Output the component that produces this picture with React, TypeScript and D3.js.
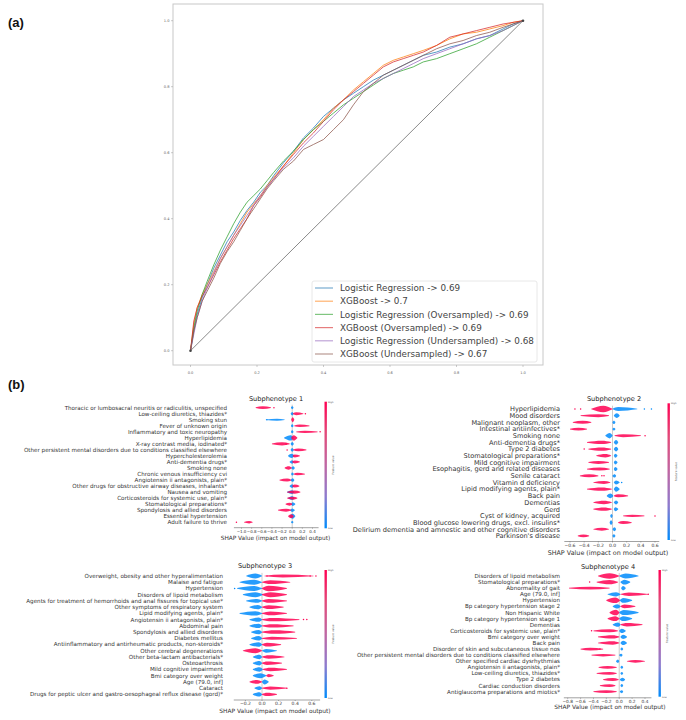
import React from 'react';
import * as d3 from 'd3';

// ---------- (a) ROC curves ----------
const rocFpr = [0, 0.01, 0.02, 0.035, 0.05, 0.07, 0.09, 0.11, 0.13, 0.15, 0.17, 0.19, 0.21, 0.23, 0.25, 0.28, 0.31, 0.34, 0.37, 0.4, 0.43, 0.46, 0.49, 0.52, 0.55, 0.58, 0.61, 0.64, 0.67, 0.7, 0.74, 0.78, 0.82, 0.86, 0.9, 0.94, 0.97, 1.0];
const tprLR = [0, 0.06, 0.11, 0.16, 0.2, 0.25, 0.29, 0.33, 0.36, 0.395, 0.425, 0.45, 0.48, 0.5, 0.53, 0.57, 0.605, 0.645, 0.675, 0.71, 0.735, 0.76, 0.78, 0.8, 0.82, 0.835, 0.85, 0.865, 0.88, 0.895, 0.905, 0.92, 0.93, 0.945, 0.955, 0.975, 0.99, 1];
const tprXGB = [0, 0.08, 0.13, 0.17, 0.2, 0.24, 0.28, 0.315, 0.35, 0.385, 0.42, 0.445, 0.47, 0.5, 0.525, 0.56, 0.6, 0.64, 0.67, 0.7, 0.735, 0.76, 0.79, 0.815, 0.84, 0.865, 0.88, 0.89, 0.9, 0.91, 0.925, 0.945, 0.96, 0.965, 0.975, 0.985, 0.995, 1];
const tprLROver = [0, 0.07, 0.12, 0.17, 0.21, 0.26, 0.305, 0.345, 0.385, 0.42, 0.45, 0.47, 0.49, 0.515, 0.54, 0.575, 0.605, 0.64, 0.67, 0.695, 0.72, 0.745, 0.765, 0.785, 0.805, 0.825, 0.84, 0.85, 0.86, 0.875, 0.885, 0.9, 0.915, 0.93, 0.95, 0.97, 0.985, 1];
const tprXGBOver = [0, 0.09, 0.13, 0.165, 0.19, 0.23, 0.27, 0.305, 0.34, 0.37, 0.4, 0.44, 0.465, 0.495, 0.52, 0.56, 0.595, 0.63, 0.66, 0.695, 0.73, 0.76, 0.785, 0.81, 0.835, 0.86, 0.875, 0.885, 0.895, 0.905, 0.925, 0.95, 0.96, 0.97, 0.98, 0.99, 0.995, 1];
const tprLRUnder = [0, 0.05, 0.1, 0.15, 0.19, 0.235, 0.28, 0.315, 0.35, 0.38, 0.41, 0.44, 0.47, 0.495, 0.52, 0.555, 0.585, 0.62, 0.65, 0.68, 0.71, 0.74, 0.77, 0.79, 0.81, 0.825, 0.84, 0.855, 0.87, 0.885, 0.9, 0.915, 0.93, 0.945, 0.955, 0.97, 0.985, 1];
const tprXGBUnder = [0, 0.06, 0.1, 0.15, 0.18, 0.22, 0.265, 0.3, 0.33, 0.365, 0.4, 0.43, 0.46, 0.49, 0.515, 0.55, 0.575, 0.61, 0.625, 0.64, 0.67, 0.7, 0.745, 0.785, 0.81, 0.835, 0.85, 0.865, 0.88, 0.895, 0.915, 0.93, 0.94, 0.955, 0.965, 0.98, 0.99, 1];
const rocNames = [
  'Logistic Regression -> 0.69',
  'XGBoost -> 0.7',
  'Logistic Regression (Oversampled) -> 0.69',
  'XGBoost (Oversampled) -> 0.69',
  'Logistic Regression (Undersampled) -> 0.68',
  'XGBoost (Undersampled) -> 0.67',
];
const rocTprs = [tprLR, tprXGB, tprLROver, tprXGBOver, tprLRUnder, tprXGBUnder];
const rocColors = ['#1f77b4', '#ff7f0e', '#2ca02c', '#d62728', '#9467bd', '#8c564b'];
const rocTicks = [0, 0.2, 0.4, 0.6, 0.8, 1.0];

// ---------- (b) SHAP summaries ----------
// spans: [low, high, peak, thickness] in SHAP units
const p1Names = [
  'Thoracic or lumbosacral neuritis or radiculitis, unspecified',
  'Low-ceiling diuretics, thiazides*',
  'Smoking stun',
  'Fever of unknown origin',
  'Inflammatory and toxic neuropathy',
  'Hyperlipidemia',
  'X-ray contrast media, iodinated*',
  'Other persistent mental disorders due to conditions classified elsewhere',
  'Hypercholesterolemia',
  'Anti-dementia drugs*',
  'Smoking none',
  'Chronic venous insufficiency cvi',
  'Angiotensin ii antagonists, plain*',
  'Other drugs for obstructive airway diseases, inhalants*',
  'Nausea and vomiting',
  'Corticosteroids for systemic use, plain*',
  'Stomatological preparations*',
  'Spondylosis and allied disorders',
  'Essential hypertension',
  'Adult failure to thrive',
];
const p1Blue = [
  [-0.02, 0.02, 0, 0.5], [-0.03, 0.03, 0, 0.6], [-0.52, -0.15, -0.3, 0.35], [-0.02, 0.02, 0, 0.5],
  [-0.02, 0.02, 0, 0.5], [-0.16, 0.03, -0.03, 0.9], [-0.03, 0.03, 0, 0.6], [-0.03, 0.03, 0, 0.6],
  [-0.08, 0.04, -0.01, 0.7], [-0.05, 0.03, 0, 0.6], [-0.02, 0.05, 0.02, 0.6], [-0.02, 0.03, 0, 0.5],
  [-0.03, 0.04, 0.01, 0.6], [-0.05, 0.03, 0, 0.6], [-0.1, 0.04, 0, 0.6], [-0.08, 0.04, 0, 0.6],
  [-0.02, 0.06, 0.01, 0.6], [-0.04, 0.05, 0, 0.6], [-0.05, 0.06, 0.01, 0.8], [-0.02, 0.02, 0, 0.4],
];
const p1Red = [
  [-0.72, -0.42, -0.58, 0.45], [0.01, 0.22, 0.08, 0.5], [-0.02, 0.04, 0.01, 0.8], [0.04, 0.34, 0.15, 0.4],
  [0.08, 0.5, 0.25, 0.35], [-0.02, 0.1, 0.03, 0.9], [-0.4, -0.05, -0.2, 0.5], [0.02, 0.28, 0.12, 0.45],
  [0.01, 0.15, 0.05, 0.5], [0.0, 0.15, 0.05, 0.5], [-0.15, -0.01, -0.07, 0.55], [0.03, 0.25, 0.1, 0.4],
  [-0.25, -0.02, -0.1, 0.5], [0.0, 0.14, 0.05, 0.5], [-0.1, 0.16, 0.05, 0.5], [-0.1, 0.1, 0.02, 0.5],
  [-0.13, 0.0, -0.05, 0.5], [-0.28, -0.02, -0.12, 0.5], [-0.08, 0.03, -0.02, 0.7], [-0.95, -0.78, -0.85, 0.4],
];
// outlying single points: [row, shap, isHigh]
const p1Dots = [[0, -0.36, 1], [1, 0.26, 1], [2, -0.5, 0], [4, 0.55, 1], [6, -0.12, 1], [7, -0.1, 1], [19, -1.1, 1]];
const p1Ticks = [-1.0, -0.8, -0.6, -0.4, -0.2, 0.0, 0.2, 0.4];

const p2Names = [
  'Hyperlipidemia',
  'Mood disorders',
  'Malignant neoplasm, other',
  'Intestinal antiinfectives*',
  'Smoking none',
  'Anti-dementia drugs*',
  'Type 2 diabetes',
  'Stomatological preparations*',
  'Mild cognitive impairment',
  'Esophagitis, gerd and related diseases',
  'Senile cataract',
  'Vitamin d deficiency',
  'Lipid modifying agents, plain*',
  'Back pain',
  'Dementias',
  'Gerd',
  'Cyst of kidney, acquired',
  'Blood glucose lowering drugs, excl. insulins*',
  'Delirium dementia and amnestic and other cognitive disorders',
  "Parkinson's disease",
];
const p2Blue = [
  [0.0, 0.35, 0.08, 0.6], [0.02, 0.1, 0.06, 0.7], [0.0, 0.04, 0.02, 0.5], [0.0, 0.04, 0.02, 0.4],
  [-0.1, 0.0, -0.04, 0.8], [0.02, 0.08, 0.05, 0.7], [0.02, 0.08, 0.05, 0.7], [0.02, 0.07, 0.04, 0.6],
  [0.02, 0.07, 0.04, 0.6], [0.02, 0.07, 0.04, 0.6], [0.0, 0.05, 0.03, 0.5], [0.02, 0.1, 0.05, 0.6],
  [0.02, 0.1, 0.05, 0.8], [-0.08, 0.01, -0.03, 0.7], [0.02, 0.08, 0.05, 0.6], [0.02, 0.08, 0.04, 0.6],
  [-0.03, 0.0, -0.01, 0.6], [-0.04, 0.0, -0.02, 0.7], [0.0, 0.05, 0.03, 0.6], [0.0, 0.04, 0.02, 0.5],
];
const p2Red = [
  [-0.3, 0.0, -0.13, 1.0], [-0.45, -0.05, -0.2, 0.45], [-0.56, -0.3, -0.42, 0.45], [-0.6, -0.36, -0.48, 0.4],
  [0.03, 0.4, 0.15, 0.45], [-0.36, -0.02, -0.15, 0.5], [-0.34, -0.02, -0.15, 0.5], [-0.23, -0.02, -0.1, 0.5],
  [-0.34, -0.05, -0.2, 0.45], [-0.36, -0.04, -0.18, 0.45], [-0.46, -0.2, -0.33, 0.45], [-0.27, -0.03, -0.12, 0.45],
  [-0.36, -0.01, -0.15, 0.5], [0.02, 0.22, 0.08, 0.45], [-0.27, -0.01, -0.12, 0.5], [-0.27, -0.01, -0.12, 0.5],
  [0.15, 0.45, 0.28, 0.35], [0.08, 0.27, 0.15, 0.45], [-0.27, -0.05, -0.15, 0.45], [-0.49, -0.33, -0.41, 0.4],
];
const p2Dots = [[0, -0.53, 1], [0, -0.45, 1], [0, 0.45, 0], [0, 0.55, 0], [4, 0.46, 1], [6, -0.4, 1], [10, -0.15, 1], [10, -0.12, 1], [11, 0.13, 0], [16, 0.6, 1]];
const p2Ticks = [-0.6, -0.4, -0.2, 0.0, 0.2, 0.4, 0.6];

const p3Names = [
  'Overweight, obesity and other hyperalimentation',
  'Malaise and fatigue',
  'Hypertension',
  'Disorders of lipoid metabolism',
  'Agents for treatment of hemorrhoids and anal fissures for topical use*',
  'Other symptoms of respiratory system',
  'Lipid modifying agents, plain*',
  'Angiotensin ii antagonists, plain*',
  'Abdominal pain',
  'Spondylosis and allied disorders',
  'Diabetes mellitus',
  'Antiinflammatory and antirheumatic products, non-steroids*',
  'Other cerebral degenerations',
  'Other beta-lactam antibacterials*',
  'Osteoarthrosis',
  'Mild cognitive impairment',
  'Bmi category over weight',
  'Age (79.0, inf]',
  'Cataract',
  'Drugs for peptic ulcer and gastro-oesophageal reflux disease (gord)*',
];
const p3Blue = [
  [-0.19, 0.0, -0.08, 0.8], [-0.27, 0.0, -0.1, 0.8], [-0.3, 0.0, -0.1, 0.8], [-0.23, 0.01, -0.08, 0.8],
  [-0.19, 0.0, -0.06, 0.6], [-0.15, 0.0, -0.05, 0.7], [-0.27, 0.0, -0.08, 0.7], [-0.15, 0.0, -0.04, 0.7],
  [-0.15, 0.0, -0.04, 0.7], [-0.13, 0.0, -0.04, 0.7], [-0.13, 0.0, -0.04, 0.7], [-0.15, 0.0, -0.04, 0.7],
  [0.0, 0.18, 0.05, 0.6], [-0.11, 0.0, -0.03, 0.7], [-0.11, 0.0, -0.03, 0.7], [-0.11, 0.01, -0.03, 0.7],
  [-0.11, 0.05, -0.02, 0.8], [0.0, 0.08, 0.03, 0.8], [-0.09, 0.0, -0.03, 0.6], [-0.11, 0.0, -0.03, 0.7],
];
const p3Red = [
  [0.03, 0.62, 0.25, 0.45], [0.0, 0.34, 0.1, 0.6], [0.0, 0.3, 0.08, 0.9], [0.0, 0.3, 0.1, 0.8],
  [0.0, 0.3, 0.08, 0.6], [0.0, 0.26, 0.08, 0.6], [0.0, 0.3, 0.1, 0.6], [0.0, 0.45, 0.12, 0.55],
  [0.0, 0.38, 0.12, 0.55], [0.0, 0.4, 0.15, 0.55], [0.0, 0.42, 0.12, 0.5], [0.0, 0.23, 0.06, 0.6],
  [-0.23, 0.0, -0.08, 0.8], [0.0, 0.27, 0.08, 0.55], [0.0, 0.24, 0.06, 0.55], [0.01, 0.3, 0.1, 0.55],
  [0.05, 0.14, 0.08, 0.5], [-0.15, 0.0, -0.06, 0.6], [0.0, 0.3, 0.1, 0.5], [0.0, 0.18, 0.06, 0.55],
];
const p3Dots = [[0, 0.06, 1], [0, 0.58, 1], [0, 0.65, 1], [2, -0.33, 0], [7, 0.5, 1], [7, 0.54, 1], [18, 0.3, 1]];
const p3Ticks = [-0.2, 0.0, 0.2, 0.4, 0.6];

const p4Names = [
  'Disorders of lipoid metabolism',
  'Stomatological preparations*',
  'Abnormality of gait',
  'Age (79.0, inf]',
  'Hypertension',
  'Bp category hypertension stage 2',
  'Non Hispanic White',
  'Bp category hypertension stage 1',
  'Dementias',
  'Corticosteroids for systemic use, plain*',
  'Bmi category over weight',
  'Back pain',
  'Disorder of skin and subcutaneous tissue nos',
  'Other persistent mental disorders due to conditions classified elsewhere',
  'Other specified cardiac dysrhythmias',
  'Angiotensin ii antagonists, plain*',
  'Low-ceiling diuretics, thiazides*',
  'Type 2 diabetes',
  'Cardiac conduction disorders',
  'Antiglaucoma preparations and miotics*',
];
const p4Blue = [
  [0.0, 0.3, 0.1, 0.8], [0.02, 0.17, 0.08, 0.8], [0.03, 0.1, 0.06, 0.7], [-0.18, 0.02, -0.05, 0.7],
  [0.01, 0.2, 0.06, 0.8], [-0.1, 0.02, -0.03, 0.7], [0.0, 0.3, 0.07, 0.8], [0.0, 0.2, 0.06, 0.8],
  [-0.1, 0.02, -0.02, 0.7], [0.0, 0.1, 0.04, 0.7], [0.02, 0.12, 0.06, 0.7], [0.02, 0.12, 0.06, 0.7],
  [0.02, 0.06, 0.04, 0.5], [0.0, 0.05, 0.03, 0.5], [-0.05, 0.0, -0.02, 0.6], [0.02, 0.06, 0.04, 0.5],
  [0.02, 0.06, 0.04, 0.5], [0.01, 0.09, 0.05, 0.6], [0.02, 0.06, 0.04, 0.5], [0.01, 0.06, 0.04, 0.5],
];
const p4Red = [
  [-0.33, 0.0, -0.15, 0.9], [-0.35, -0.02, -0.15, 0.7], [-0.78, -0.15, -0.45, 0.45], [0.02, 0.45, 0.15, 0.6],
  [-0.2, 0.01, -0.06, 0.9], [0.02, 0.25, 0.08, 0.6], [-0.15, 0.0, -0.05, 0.9], [-0.18, 0.0, -0.06, 0.8],
  [0.02, 0.36, 0.12, 0.55], [-0.4, -0.02, -0.15, 0.5], [-0.33, 0.0, -0.1, 0.55], [-0.33, 0.0, -0.1, 0.55],
  [-0.6, -0.25, -0.45, 0.45], [-0.43, -0.06, -0.25, 0.4], [0.12, 0.4, 0.25, 0.45], [-0.32, -0.04, -0.18, 0.45],
  [-0.35, -0.04, -0.15, 0.45], [-0.25, -0.01, -0.1, 0.5], [-0.3, -0.06, -0.15, 0.45], [-0.4, -0.04, -0.2, 0.45],
];
const p4Dots = [[1, -0.46, 1], [3, 0.45, 1], [9, -0.43, 1], [12, -0.3, 1]];
const p4Ticks = [-0.8, -0.6, -0.4, -0.2, 0.0, 0.2, 0.4];

const SHAP_BLUE = '#008bfb';
const SHAP_RED = '#ff0052';
const FONT = '"DejaVu Sans", sans-serif';

// layout of each summary panel (pixels)
const layouts = [
  { t0: -1.0, t0px: 241.5, t1: 0.4, t1px: 312.5, ext: [-1.15, 0.52], labelRight: 227, row0: 407.7, step: 6.03, axisY: 527.7, tickY: 530.7, xlabX: 275.5, xlabY: 538.3, titleX: 276, titleY: 398.3, cbX: 324.5, cbY0: 401.7, cbY1: 528.3, fs: 5.6, tfs: 4, afs: 5.8 },
  { t0: -0.6, t0px: 570, t1: 0.6, t1px: 655, ext: [-0.68, 0.66], labelRight: 560, row0: 409, step: 6.68, axisY: 541.5, tickY: 544.5, xlabX: 608, xlabY: 552.5, titleX: 614, titleY: 398.3, cbX: 667.5, cbY0: 403.3, cbY1: 540, fs: 6.6, tfs: 4.5, afs: 6.4 },
  { t0: -0.2, t0px: 245.4, t1: 0.6, t1px: 311.8, ext: [-0.34, 0.7], labelRight: 223, row0: 576, step: 6.23, axisY: 700, tickY: 703, xlabX: 275, xlabY: 710.7, titleX: 265, titleY: 566, cbX: 324.5, cbY0: 570, cbY1: 698, fs: 5.6, tfs: 4.5, afs: 5.9 },
  { t0: -0.8, t0px: 567.7, t1: 0.4, t1px: 645, ext: [-0.86, 0.5], labelRight: 560, row0: 576, step: 6.09, axisY: 697.8, tickY: 700.7, xlabX: 610, xlabY: 706.7, titleX: 608, titleY: 566.7, cbX: 658.5, cbY0: 570, cbY1: 696.7, fs: 5.6, tfs: 4.3, afs: 5.9 },
];

const panels = [
  { title: 'Subphenotype 1', names: p1Names, blue: p1Blue, red: p1Red, dots: p1Dots, ticks: p1Ticks },
  { title: 'Subphenotype 2', names: p2Names, blue: p2Blue, red: p2Red, dots: p2Dots, ticks: p2Ticks },
  { title: 'Subphenotype 3', names: p3Names, blue: p3Blue, red: p3Red, dots: p3Dots, ticks: p3Ticks },
  { title: 'Subphenotype 4', names: p4Names, blue: p4Blue, red: p4Red, dots: p4Dots, ticks: p4Ticks },
];

const fmt = (v: number) => d3.format('.1f')(v).replace('-', '\u2212');

function lensPath(s: number[], cy: number, xs: d3.ScaleLinear<number, number>, half: number) {
  let x0 = xs(s[0]);
  let x1 = xs(s[1]);
  let xp = xs(s[2]);
  if (x1 - x0 < 2.4) {
    const c = (x0 + x1) / 2;
    x0 = c - 1.2;
    x1 = c + 1.2;
    xp = c;
  }
  xp = Math.max(x0 + 0.3, Math.min(x1 - 0.3, xp));
  const pts: [number, number][] = [[x0, 0.35], [xp, Math.max(0.6, s[3] * half)], [x1, 0.35]];
  return d3.area<[number, number]>()
    .x(d => d[0])
    .y0(d => cy - d[1])
    .y1(d => cy + d[1])
    .curve(d3.curveMonotoneX)(pts) || '';
}

function ShapPanel({ p, L, idx }: any) {
  const xs = d3.scaleLinear().domain([L.t0, L.t1]).range([L.t0px, L.t1px]);
  const rowY = (i: number) => L.row0 + i * L.step;
  const half = L.step * 0.5;
  const gid = `cbar${idx}`;
  const cbMid = (L.cbY0 + L.cbY1) / 2;
  return (
    <g>
      <defs>
        <linearGradient id={gid} x1="0" y1="1" x2="0" y2="0">
          {d3.range(0, 1.01, 0.25).map(t => (
            <stop key={t} offset={t} stopColor={d3.interpolateLab(SHAP_BLUE, SHAP_RED)(t)} />
          ))}
        </linearGradient>
      </defs>
      <text x={L.titleX} y={L.titleY + 2.3} fontSize={6.6} textAnchor="middle" fill="#222" fontFamily={FONT}>{p.title}</text>
      {/* zero line */}
      <line x1={xs(0)} x2={xs(0)} y1={rowY(0) - half} y2={L.axisY} stroke="#999" strokeWidth={0.5} />
      {p.names.map((n: string, i: number) => (
        <text key={n + i} x={L.labelRight} y={rowY(i) + L.fs * 0.35} fontSize={L.fs} textAnchor="end" fill="#333" fontFamily={FONT}>{n}</text>
      ))}
      {p.names.map((n: string, i: number) => (
        <g key={'m' + i}>
          <path d={lensPath(p.blue[i], rowY(i), xs, half)} fill={SHAP_BLUE} fillOpacity={0.85} />
          <path d={lensPath(p.red[i], rowY(i), xs, half)} fill={SHAP_RED} fillOpacity={0.85} />
        </g>
      ))}
      {p.dots.map((d: number[], k: number) => (
        <circle key={'d' + k} cx={xs(d[1])} cy={rowY(d[0])} r={0.75} fill={d[2] ? SHAP_RED : SHAP_BLUE} />
      ))}
      {/* x axis */}
      <line x1={xs(L.ext[0])} x2={xs(L.ext[1])} y1={L.axisY} y2={L.axisY} stroke="#444" strokeWidth={0.5} />
      {p.ticks.map((t: number) => (
        <g key={'t' + t}>
          <line x1={xs(t)} x2={xs(t)} y1={L.axisY} y2={L.axisY + 1} stroke="#444" strokeWidth={0.4} />
          <text x={xs(t)} y={L.tickY + L.tfs * 0.45} fontSize={L.tfs} textAnchor="middle" fill="#333" fontFamily={FONT}>{fmt(t)}</text>
        </g>
      ))}
      <text x={L.xlabX} y={L.xlabY + L.afs * 0.35} fontSize={L.afs} textAnchor="middle" fill="#333" fontFamily={FONT}>SHAP Value (impact on model output)</text>
      {/* colour bar */}
      <rect x={L.cbX} y={L.cbY0} width={2.4} height={L.cbY1 - L.cbY0} fill={`url(#${gid})`} />
      <text x={L.cbX + 3.5} y={L.cbY0 + 1} fontSize={2.4} fill="#555" fontFamily={FONT}>High</text>
      <text x={L.cbX + 3.5} y={L.cbY1 + 1} fontSize={2.4} fill="#555" fontFamily={FONT}>Low</text>
      <text transform={`translate(${L.cbX + 9},${cbMid}) rotate(-90)`} fontSize={2.8} textAnchor="middle" fill="#555" fontFamily={FONT}>Feature value</text>
    </g>
  );
}

function RocPanel() {
  const x = d3.scaleLinear().domain([0, 1]).range([190.5, 523]);
  const y = d3.scaleLinear().domain([0, 1]).range([350.7, 20.7]);
  const line = d3.line<[number, number]>().x(d => x(d[0])).y(d => y(d[1]));
  const frame = { x0: 173, x1: 543, y0: 4, y1: 365 };
  const legY0 = 288;
  const legStep = 13.2;
  return (
    <g>
      <rect x={frame.x0} y={frame.y0} width={frame.x1 - frame.x0} height={frame.y1 - frame.y0} fill="white" stroke="#c8c8c8" strokeWidth={1} />
      {rocTicks.map(t => (
        <g key={'rx' + t}>
          <line x1={x(t)} x2={x(t)} y1={frame.y1} y2={frame.y1 + 2} stroke="#999" strokeWidth={0.5} />
          <text x={x(t)} y={374} fontSize={3.6} textAnchor="middle" fill="#666" fontFamily={FONT}>{t.toFixed(1)}</text>
          <line x1={frame.x0 - 2} x2={frame.x0} y1={y(t)} y2={y(t)} stroke="#999" strokeWidth={0.5} />
          <text x={169.5} y={y(t) + 1.2} fontSize={3.6} textAnchor="end" fill="#666" fontFamily={FONT}>{t.toFixed(1)}</text>
        </g>
      ))}
      <line x1={x(0)} y1={y(0)} x2={x(1)} y2={y(1)} stroke="#8a8a8a" strokeWidth={1} />
      {rocTprs.map((tpr, i) => (
        <path key={rocNames[i]} d={line(rocFpr.map((f, k) => [f, tpr[k]] as [number, number])) || ''} fill="none" stroke={rocColors[i]} strokeWidth={1} strokeOpacity={0.75} />
      ))}
      <circle cx={x(0)} cy={y(0)} r={1.3} fill="#444" />
      <circle cx={x(1)} cy={y(1)} r={1.3} fill="#444" />
      <rect x={312} y={281} width={225} height={81} rx={2} fill="white" fillOpacity={0.85} stroke="#e2e2e2" strokeWidth={0.8} />
      {rocNames.map((n, i) => (
        <g key={'lg' + i}>
          <line x1={315} x2={333} y1={legY0 + i * legStep} y2={legY0 + i * legStep} stroke={rocColors[i]} strokeWidth={1.2} strokeOpacity={0.6} />
          <text x={340} y={legY0 + i * legStep + 3.1} fontSize={8.8} fill="#444" fontFamily={FONT}>{n}</text>
        </g>
      ))}
    </g>
  );
}

export default function App() {
  return (
    <svg width={686} height={720} style={{ position: 'absolute', left: 0, top: 0, background: 'white' }}>
      <rect x={0} y={0} width={686} height={720} fill="white" />
      <text x={8} y={27} fontSize={13} fontWeight="bold" fill="#111" fontFamily='"Liberation Sans", Arial, sans-serif'>(a)</text>
      <RocPanel />
      <text x={8} y={389} fontSize={13} fontWeight="bold" fill="#111" fontFamily='"Liberation Sans", Arial, sans-serif'>(b)</text>
      {panels.map((p, i) => (
        <ShapPanel key={p.title} p={p} L={layouts[i]} idx={i} />
      ))}
    </svg>
  );
}
